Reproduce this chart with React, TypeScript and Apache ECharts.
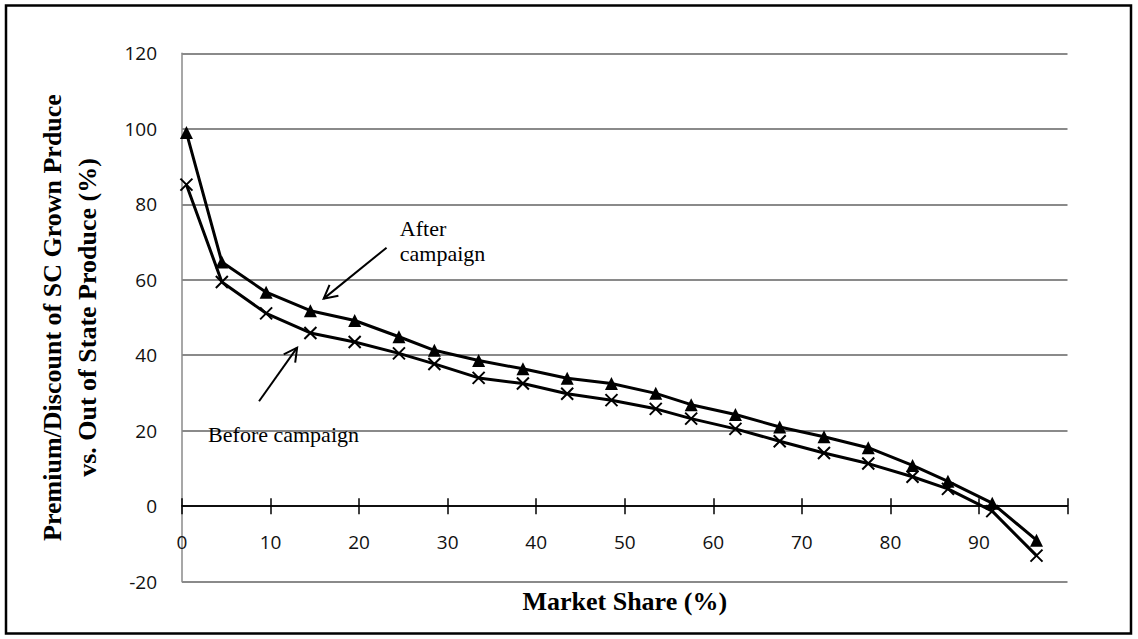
import React, { useEffect, useRef } from "react";
import * as echarts from "echarts";

// Market share (%) of each observation (x axis)
const marketShare = [0.5, 4.5, 9.5, 14.5, 19.5, 24.5, 28.5, 33.5, 38.5, 43.5, 48.5, 53.5, 57.5, 62.5, 67.5, 72.5, 77.5, 82.5, 86.5, 91.5, 96.5];
// Premium/discount after campaign (triangles)
const afterCampaign = [99, 64.7, 56.7, 51.8, 49.2, 44.9, 41.3, 38.6, 36.4, 33.9, 32.5, 29.9, 26.9, 24.3, 21.0, 18.4, 15.5, 10.8, 6.6, 0.8, -9.0];
// Premium/discount before campaign (crosses)
const beforeCampaign = [85.2, 59.4, 51.1, 45.9, 43.5, 40.5, 37.7, 34.0, 32.5, 29.8, 28.1, 25.8, 23.2, 20.5, 17.2, 14.1, 11.3, 7.8, 4.6, -1.3, -13.1];

// Axis ranges
const xRange = [0, 100, 10];
const yRange = [-20, 120, 20];

// Annotations in data coordinates
const afterLabel = { text: "After\ncampaign", at: [24.6, 73.6] };
const afterArrow = { from: [23.1, 68.5], to: [16.0, 55.0] };
const beforeLabel = { text: "Before campaign", at: [2.95, 18.9] };
const beforeArrow = { from: [8.7, 27.8], to: [13.0, 42.0] };

const CROSS = "path://M0,0L10,10M10,0L0,10";

export default function App() {
  const ref = useRef<HTMLDivElement>(null);

  useEffect(() => {
    if (!ref.current) return;
    const chart = echarts.init(ref.current, undefined, { renderer: "svg" });
    const labelFont = { fontFamily: "Open Sans", fontSize: 19, color: "#111" };
    const nameFont = {
      fontFamily: "Liberation Serif",
      fontWeight: "bold" as const,
      fontSize: 26,
      color: "#000",
    };
    const splitColors = [-20, 0, 20, 40, 60, 80, 100, 120].map((v) =>
      v === 0 ? "rgba(0,0,0,0)" : "#8a8a8a"
    );

    chart.setOption({
      animation: false,
      grid: {
        left: 182,
        right: 70.5,
        top: 53.3,
        bottom: 57.3,
        containLabel: false,
        outerBoundsMode: "none",
      },
      xAxis: [
        {
          type: "value",
          min: xRange[0],
          max: xRange[1],
          interval: xRange[2],
          position: "bottom",
          name: "Market Share (%)",
          nameLocation: "middle",
          nameGap: 7,
          nameTextStyle: nameFont,
          axisLine: { show: true, onZero: true, onZeroAxisIndex: 0, lineStyle: { color: "#000", width: 1.5 } },
          axisTick: { show: true, inside: false, length: 8, lineStyle: { color: "#000", width: 1.5 } },
          axisLabel: {
            ...labelFont,
            margin: -49,
            showMaxLabel: true,
            formatter: (v: number) => (v >= 100 ? "" : String(v)),
          },
          splitLine: { show: false },
        },
        {
          type: "value",
          min: xRange[0],
          max: xRange[1],
          interval: xRange[2],
          position: "bottom",
          axisLine: { show: true, onZero: true, onZeroAxisIndex: 1, lineStyle: { color: "#000", width: 1.5 } },
          axisTick: { show: true, inside: true, length: 8, lineStyle: { color: "#000", width: 1.5 } },
          axisLabel: { show: false },
          splitLine: { show: false },
        },
      ],
      yAxis: [
        {
          type: "value",
          min: yRange[0],
          max: yRange[1],
          interval: yRange[2],
          name: "Premium/Discount of SC Grown Prduce\nvs. Out of State Produce (%)",
          nameLocation: "middle",
          nameGap: 77,
          nameTextStyle: { ...nameFont, lineHeight: 35 },
          axisLine: { show: true, lineStyle: { color: "#8a8a8a", width: 1.5 } },
          axisTick: { show: false },
          axisLabel: { ...labelFont, margin: 25 },
          splitLine: { show: true, lineStyle: { color: splitColors, width: 2 } },
        },
        {
          type: "value",
          min: yRange[0],
          max: yRange[1],
          interval: yRange[2],
          position: "left",
          axisLine: { show: false },
          axisTick: { show: false },
          axisLabel: { show: false },
          splitLine: { show: false },
        },
      ],
      series: [
        {
          name: "Before campaign",
          type: "line",
          data: marketShare.map((x, i) => [x, beforeCampaign[i]]),
          symbol: CROSS,
          symbolSize: 12,
          showSymbol: true,
          lineStyle: { color: "#000", width: 3 },
          itemStyle: { color: "#000", borderColor: "#000", borderWidth: 2 },
          z: 3,
        },
        {
          name: "After campaign",
          type: "line",
          data: marketShare.map((x, i) => [x, afterCampaign[i]]),
          symbol: "triangle",
          symbolSize: 13,
          showSymbol: true,
          lineStyle: { color: "#000", width: 3 },
          itemStyle: { color: "#000", borderWidth: 0 },
          z: 4,
        },
      ],
    });

    const toPx = (p: number[]) =>
      chart.convertToPixel({ xAxisIndex: 0, yAxisIndex: 0 }, p) as number[];

    const arrow = (from: number[], to: number[]) => {
      const a = toPx(from);
      const b = toPx(to);
      const dx = b[0] - a[0];
      const dy = b[1] - a[1];
      const len = Math.hypot(dx, dy);
      const ux = dx / len;
      const uy = dy / len;
      const L = 15;
      const th = (28 * Math.PI) / 180;
      const rot = (c: number, s: number) => [ux * c - uy * s, ux * s + uy * c];
      const r1 = rot(Math.cos(th), Math.sin(th));
      const r2 = rot(Math.cos(th), -Math.sin(th));
      return [
        {
          type: "line",
          shape: { x1: a[0], y1: a[1], x2: b[0], y2: b[1] },
          style: { stroke: "#000", lineWidth: 2 },
        },
        {
          type: "polyline",
          shape: {
            points: [
              [b[0] - L * r1[0], b[1] - L * r1[1]],
              [b[0], b[1]],
              [b[0] - L * r2[0], b[1] - L * r2[1]],
            ],
          },
          style: { stroke: "#000", lineWidth: 2, fill: "none" },
        },
      ];
    };

    const label = (l: { text: string; at: number[] }) => {
      const p = toPx(l.at);
      return {
        type: "text",
        x: p[0],
        y: p[1] - 12.5,
        style: {
          text: l.text,
          fontFamily: "Liberation Serif",
          fontSize: 22,
          lineHeight: 25,
          fill: "#000",
          align: "left",
          verticalAlign: "top",
        },
      };
    };

    chart.setOption({
      graphic: [
        {
          type: "rect",
          shape: { x: 6, y: 5.5, width: 1125, height: 628 },
          style: { stroke: "#000", lineWidth: 2.5, fill: "none" },
          silent: true,
        },
        label(afterLabel),
        label(beforeLabel),
        ...arrow(afterArrow.from, afterArrow.to),
        ...arrow(beforeArrow.from, beforeArrow.to),
      ],
    });

    return () => chart.dispose();
  }, []);

  return (
    <div
      ref={ref}
      style={{ position: "absolute", left: 0, top: 0, width: 1138, height: 639, background: "#fff" }}
    />
  );
}
